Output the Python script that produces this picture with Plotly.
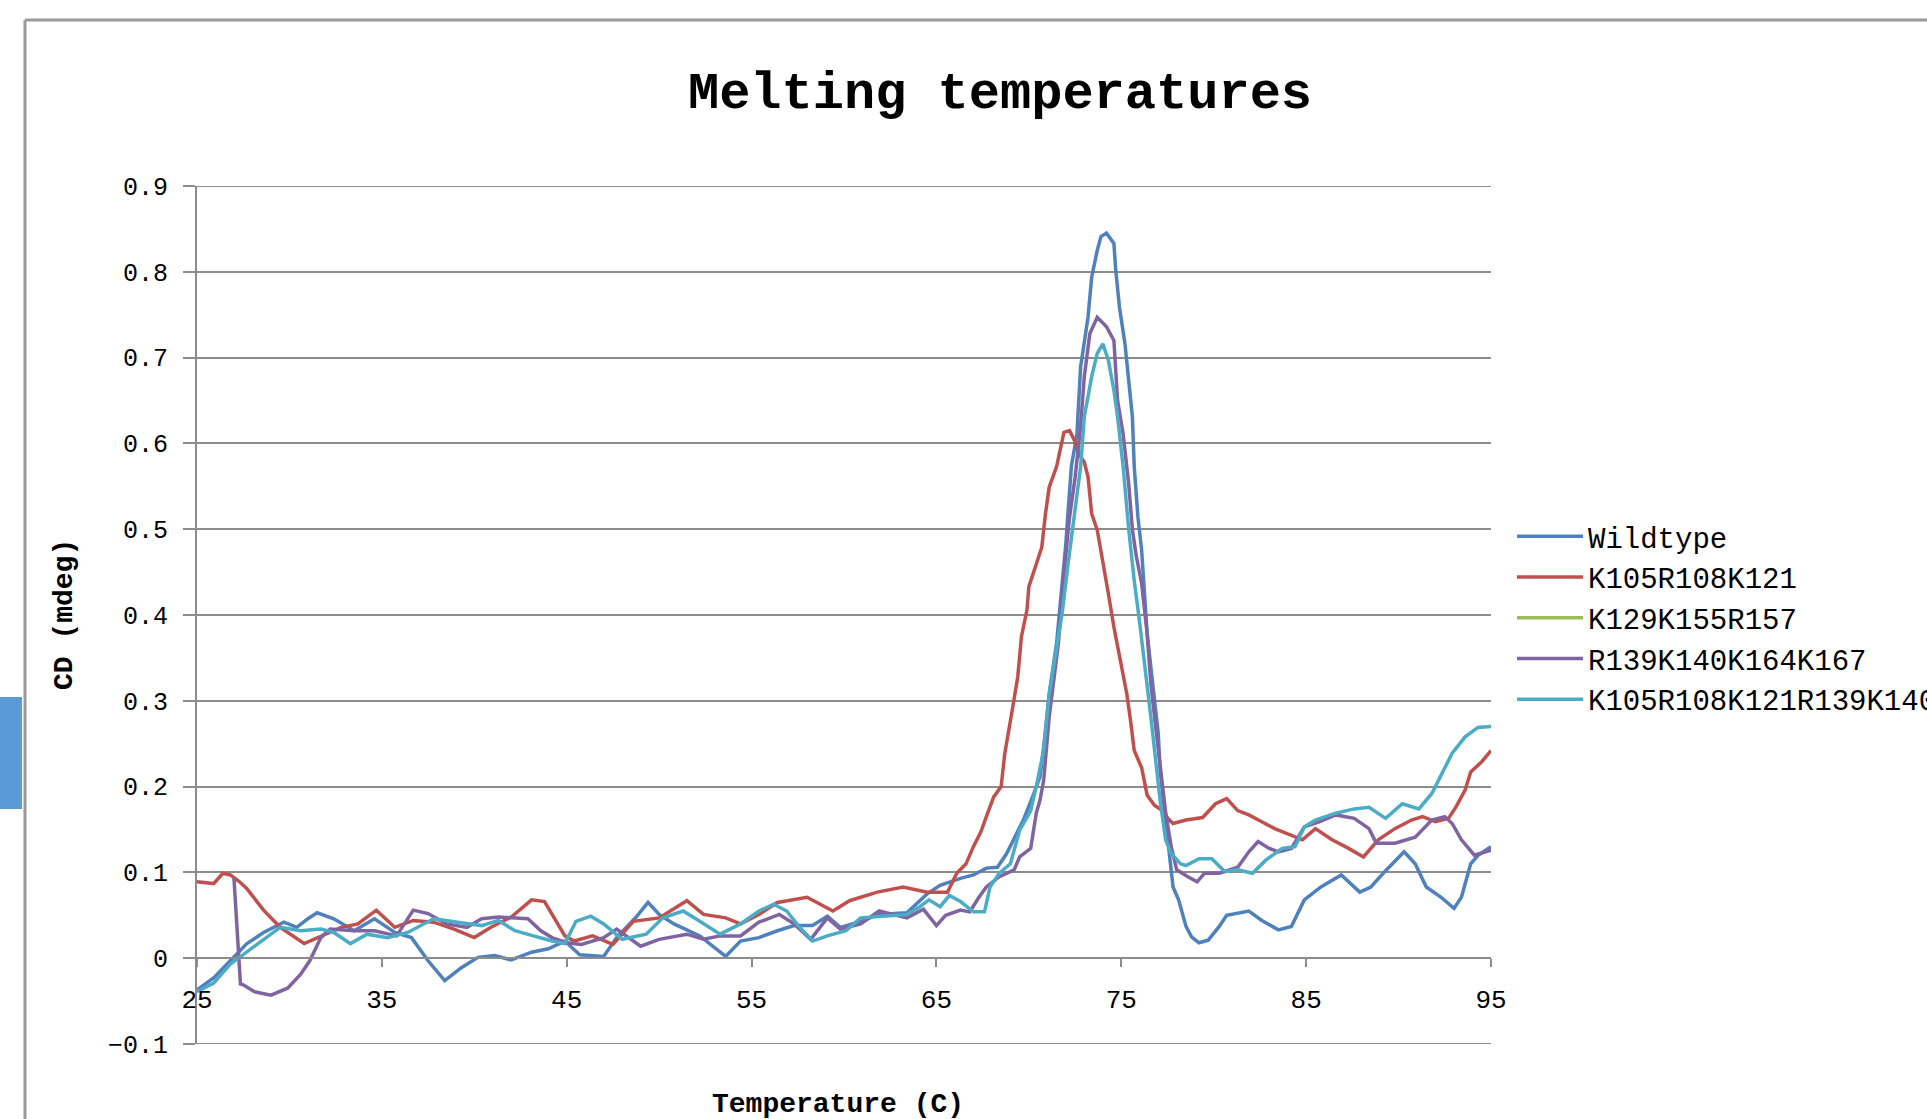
import plotly.graph_objects as go

# ---------------- data ----------------
series_names = ["Wildtype", "K105R108K121", "K129K155R157",
                "R139K140K164K167", "K105R108K121R139K140K164K167"]
series_colors = ["#4F81BD", "#C0504D", "#9BBB59", "#8064A2", "#4BACC6"]

wt_t = [25.0, 25.9, 26.8, 27.7, 28.6, 29.7, 30.4, 31.0, 31.5, 32.4, 33.5, 34.6, 35.7, 36.6,
        37.5, 38.4, 39.3, 40.2, 41.1, 42.0, 43.1, 44.0, 44.9, 45.7, 47.0, 47.7, 48.8, 49.4,
        50.0, 50.8, 52.2, 53.6, 54.4, 55.4, 56.4, 57.3, 58.3, 59.1, 59.8, 60.9, 61.9, 63.4,
        64.5, 65.2, 66.3, 67.0, 67.7, 68.3, 68.8, 69.3, 69.7, 70.2, 70.6, 70.8, 71.1, 71.5,
        71.8, 72.0, 72.1, 72.3, 72.6, 72.8, 73.2, 73.4, 73.7, 73.9, 74.2, 74.6, 74.7, 74.9,
        75.2, 75.4, 75.6, 75.7, 75.9, 76.1, 76.3, 76.4, 76.7, 77.0, 77.1, 77.3, 77.5, 77.8,
        78.1, 78.5, 78.8, 79.2, 79.7, 80.3, 80.7, 81.9, 82.6, 83.5, 84.2, 84.9, 85.8, 86.9,
        87.9, 88.5, 89.3, 90.3, 90.9, 91.5, 92.3, 93.0, 93.4, 93.9, 94.3, 95.0]
wt_cd = [-0.037, -0.023, -0.003, 0.017, 0.030, 0.042, 0.036, 0.046, 0.053, 0.046, 0.032, 0.046,
         0.030, 0.024, -0.003, -0.026, -0.011, 0.001, 0.003, -0.002, 0.007, 0.011, 0.020, 0.004,
         0.002, 0.024, 0.049, 0.065, 0.051, 0.040, 0.026, 0.002, 0.020, 0.024, 0.032, 0.038,
         0.038, 0.049, 0.036, 0.043, 0.051, 0.053, 0.075, 0.085, 0.093, 0.097, 0.105, 0.106,
         0.122, 0.143, 0.161, 0.188, 0.211, 0.246, 0.308, 0.367, 0.433, 0.483, 0.514, 0.573,
         0.611, 0.689, 0.747, 0.794, 0.825, 0.841, 0.845, 0.833, 0.802, 0.759, 0.716, 0.670,
         0.631, 0.573, 0.514, 0.476, 0.417, 0.378, 0.320, 0.262, 0.219, 0.184, 0.141, 0.083,
         0.068, 0.037, 0.025, 0.018, 0.021, 0.037, 0.050, 0.055, 0.044, 0.033, 0.037, 0.068,
         0.083, 0.097, 0.077, 0.083, 0.102, 0.124, 0.110, 0.083, 0.071, 0.058, 0.071, 0.110,
         0.120, 0.130]

r1_t = [25.0, 25.9, 26.4, 26.8, 27.3, 27.7, 28.6, 29.5, 30.8, 31.7, 32.8, 33.7, 34.7, 35.7,
        36.7, 37.8, 38.9, 40.0, 40.9, 42.0, 43.1, 43.8, 44.3, 44.9, 45.4, 46.4, 47.5, 48.6,
        50.0, 51.5, 52.4, 53.6, 54.4, 55.4, 56.4, 58.0, 59.4, 60.3, 61.8, 63.2, 64.5, 65.6,
        66.1, 66.6, 67.0, 67.4, 67.7, 68.1, 68.5, 68.7, 69.1, 69.4, 69.6, 69.9, 70.0, 70.3,
        70.7, 70.9, 71.1, 71.5, 71.8, 71.9, 72.2, 72.5, 72.7, 73.0, 73.2, 73.4, 73.7, 74.0,
        74.3, 74.6, 74.9, 75.3, 75.5, 75.7, 76.1, 76.4, 76.8, 77.1, 77.6, 77.8, 78.5, 79.4,
        80.1, 80.7, 81.3, 81.9, 82.6, 83.3, 84.0, 84.8, 85.5, 86.4, 87.3, 88.1, 88.9, 89.8,
        90.7, 91.3, 92.0, 92.7, 93.1, 93.6, 93.9, 94.5, 95.0]
r1_cd = [0.089, 0.087, 0.099, 0.097, 0.089, 0.081, 0.056, 0.036, 0.017, 0.026, 0.036, 0.040,
         0.056, 0.036, 0.044, 0.042, 0.034, 0.024, 0.036, 0.048, 0.068, 0.066, 0.048, 0.026,
         0.020, 0.026, 0.016, 0.043, 0.047, 0.067, 0.051, 0.047, 0.040, 0.051, 0.065, 0.071,
         0.055, 0.067, 0.077, 0.083, 0.077, 0.077, 0.099, 0.110, 0.130, 0.147, 0.165, 0.188,
         0.200, 0.239, 0.289, 0.328, 0.375, 0.406, 0.433, 0.452, 0.479, 0.518, 0.549, 0.573,
         0.600, 0.613, 0.615, 0.602, 0.588, 0.578, 0.561, 0.518, 0.499, 0.464, 0.425, 0.386,
         0.351, 0.308, 0.277, 0.242, 0.222, 0.190, 0.178, 0.174, 0.161, 0.157, 0.161, 0.164,
         0.180, 0.186, 0.172, 0.167, 0.159, 0.151, 0.145, 0.138, 0.151, 0.138, 0.128, 0.118,
         0.138, 0.151, 0.161, 0.165, 0.159, 0.163, 0.176, 0.196, 0.217, 0.229, 0.242]

# K129K155R157: no visible curve in the reference, legend entry only
r2_t = [None]
r2_cd = [None]

r3_t = [27.0, 27.35, 27.5, 28.1, 29.0, 29.9, 30.6, 31.1, 31.7, 32.2, 33.5, 34.6, 35.8, 36.7,
        37.5, 38.5, 39.6, 40.4, 41.3, 42.9, 43.6, 44.2, 45.0, 45.8, 47.0, 47.7, 49.0, 50.0,
        51.5, 52.4, 53.3, 54.4, 55.4, 56.5, 57.3, 58.2, 59.1, 59.8, 60.9, 61.9, 63.4, 64.3,
        65.0, 65.5, 66.3, 66.8, 67.3, 67.7, 68.4, 69.2, 69.5, 70.1, 70.4, 70.6, 70.8, 71.1,
        71.6, 71.9, 72.2, 72.5, 72.8, 73.0, 73.3, 73.7, 74.2, 74.6, 74.8, 75.1, 75.4, 75.6,
        75.8, 76.1, 76.4, 76.6, 76.9, 77.2, 77.4, 77.7, 78.0, 78.6, 79.1, 79.5, 80.3, 81.3,
        81.9, 82.4, 83.0, 83.5, 84.2, 84.9, 85.7, 86.6, 87.6, 88.4, 88.8, 89.8, 90.9, 91.8,
        92.5, 92.9, 93.4, 94.1, 95.0]
r3_cd = [0.093, -0.030, -0.031, -0.039, -0.043, -0.035, -0.019, -0.003, 0.024, 0.034, 0.032,
         0.032, 0.026, 0.056, 0.052, 0.040, 0.036, 0.046, 0.048, 0.046, 0.032, 0.024, 0.018,
         0.016, 0.024, 0.034, 0.014, 0.022, 0.028, 0.022, 0.026, 0.026, 0.042, 0.051, 0.040,
         0.022, 0.047, 0.034, 0.040, 0.055, 0.047, 0.057, 0.038, 0.050, 0.056, 0.054, 0.071,
         0.083, 0.095, 0.103, 0.118, 0.128, 0.169, 0.184, 0.207, 0.281, 0.367, 0.448, 0.514,
         0.560, 0.620, 0.678, 0.728, 0.747, 0.736, 0.720, 0.650, 0.611, 0.553, 0.500, 0.470,
         0.437, 0.378, 0.320, 0.262, 0.204, 0.170, 0.130, 0.103, 0.095, 0.089, 0.099, 0.099,
         0.106, 0.124, 0.136, 0.128, 0.124, 0.128, 0.153, 0.159, 0.167, 0.163, 0.151, 0.134,
         0.134, 0.141, 0.161, 0.165, 0.157, 0.138, 0.120, 0.126]

r4_t = [25.0, 25.9, 26.8, 27.7, 28.6, 29.5, 30.6, 31.7, 32.4, 33.3, 34.2, 35.3, 36.4, 37.8,
        39.1, 40.4, 41.3, 42.2, 43.2, 44.2, 44.9, 45.5, 46.3, 47.0, 48.0, 49.3, 50.2, 51.3,
        52.2, 53.3, 54.4, 55.4, 56.2, 56.9, 57.6, 58.3, 59.1, 60.1, 60.9, 61.9, 63.4, 64.1,
        64.6, 65.2, 65.7, 66.3, 67.0, 67.6, 67.9, 68.4, 69.0, 69.5, 70.1, 70.4, 70.8, 71.1,
        71.5, 71.8, 72.1, 72.3, 72.6, 72.8, 73.0, 73.4, 73.7, 74.0, 74.3, 74.6, 74.8, 75.1,
        75.4, 75.7, 76.0, 76.4, 76.6, 76.9, 77.1, 77.4, 77.7, 78.2, 78.5, 79.2, 79.9, 80.6,
        81.3, 82.1, 82.8, 83.7, 84.4, 84.9, 85.5, 86.6, 87.6, 88.4, 89.3, 90.2, 91.1, 91.8,
        92.3, 92.9, 93.6, 94.3, 95.0]
r4_cd = [-0.039, -0.029, -0.007, 0.007, 0.022, 0.036, 0.032, 0.034, 0.030, 0.017, 0.028,
         0.024, 0.030, 0.046, 0.042, 0.038, 0.044, 0.032, 0.026, 0.020, 0.017, 0.043, 0.049,
         0.040, 0.022, 0.028, 0.047, 0.055, 0.043, 0.028, 0.040, 0.055, 0.063, 0.055, 0.036,
         0.020, 0.026, 0.032, 0.047, 0.049, 0.051, 0.060, 0.068, 0.060, 0.073, 0.066, 0.054,
         0.054, 0.083, 0.099, 0.110, 0.149, 0.172, 0.200, 0.242, 0.308, 0.359, 0.402, 0.456,
         0.490, 0.540, 0.573, 0.631, 0.678, 0.705, 0.716, 0.697, 0.662, 0.631, 0.573, 0.500,
         0.440, 0.390, 0.320, 0.281, 0.223, 0.184, 0.138, 0.122, 0.110, 0.108, 0.116, 0.116,
         0.101, 0.103, 0.099, 0.114, 0.128, 0.130, 0.153, 0.161, 0.169, 0.174, 0.176, 0.163,
         0.180, 0.174, 0.192, 0.213, 0.239, 0.258, 0.269, 0.270]

x_ticks = [25, 35, 45, 55, 65, 75, 85, 95]
y_ticks = [-0.1, 0, 0.1, 0.2, 0.3, 0.4, 0.5, 0.6, 0.7, 0.8, 0.9]
y_tick_labels = ["\u22120.1", "0", "0.1", "0.2", "0.3", "0.4", "0.5", "0.6", "0.7", "0.8", "0.9"]

# ---------------- figure ----------------
W, H = 1927, 1119
L, R, T, B = 197, 1927 - 1491, 186, 1119 - 1044
PW, PH = W - L - R, H - T - B

def px_x(p):
    return (p - L) / PW

def px_y(p):
    return (H - B - p) / PH

MONO = "Liberation Mono"
GRID = "#8c8c8c"

xs = [wt_t, r1_t, r2_t, r3_t, r4_t]
ys = [wt_cd, r1_cd, r2_cd, r3_cd, r4_cd]

fig = go.Figure()
for name, col, xv, yv in zip(series_names, series_colors, xs, ys):
    fig.add_trace(go.Scatter(x=xv, y=yv, mode="lines", name=name, showlegend=True,
                             line=dict(color=col, width=3.5)))

fig.update_layout(
    width=W, height=H,
    margin=dict(l=L, r=R, t=T, b=B, autoexpand=False),
    paper_bgcolor="white", plot_bgcolor="white",
    title=dict(text="Melting temperatures", x=1000 / W, xref="container", xanchor="center",
               y=1 - 90 / H, yref="container", yanchor="middle",
               font=dict(family=MONO, size=52, color="black", weight="bold")),
    xaxis=dict(range=[25, 95], tickvals=x_ticks, ticktext=[str(v) for v in x_ticks],
               anchor="free", position=0.1, showgrid=False, zeroline=False,
               showline=True, linecolor=GRID, linewidth=2,
               ticks="outside", ticklen=8, tickwidth=2, tickcolor=GRID,
               ticklabelstandoff=10,
               tickfont=dict(family=MONO, size=26, color="black")),
    yaxis=dict(range=[-0.1, 0.9], tickvals=y_ticks, ticktext=y_tick_labels,
               showgrid=True, gridcolor=GRID, gridwidth=2, zeroline=False,
               showline=True, linecolor=GRID, linewidth=2,
               ticks="outside", ticklen=12, tickwidth=2, tickcolor=GRID,
               ticklabelstandoff=10,
               tickfont=dict(family=MONO, size=25, color="black")),
    legend=dict(x=px_x(1512), y=px_y(511), xanchor="left", yanchor="top",
                font=dict(family=MONO, size=29, color="black"),
                bgcolor="rgba(0,0,0,0)", itemwidth=66, tracegroupgap=0),
    showlegend=True,
)

# gridlines on the range boundaries (plotly skips them)
for yb in (y_ticks[0], y_ticks[-1]):
    fig.add_shape(type="line", xref="paper", yref="y", x0=0, x1=1, y0=yb, y1=yb,
                  line=dict(color=GRID, width=2), layer="below")

# axis titles
fig.add_annotation(text="<b>CD (mdeg)</b>", x=px_x(64), y=0.5, xref="paper", yref="paper",
                   textangle=-90, showarrow=False, xanchor="center", yanchor="middle",
                   font=dict(family=MONO, size=28, color="black"))
fig.add_annotation(text="<b>Temperature (C)</b>", x=px_x(838), y=px_y(1104), xref="paper",
                   yref="paper", showarrow=False, xanchor="center", yanchor="middle",
                   font=dict(family=MONO, size=28, color="black"))

# window frame decorations of the screenshot
fig.add_shape(type="line", xref="paper", yref="paper", x0=px_x(25), x1=px_x(W + 5),
              y0=px_y(20), y1=px_y(20), line=dict(color="#9a9a9a", width=3), layer="above")
fig.add_shape(type="line", xref="paper", yref="paper", x0=px_x(25), x1=px_x(25),
              y0=px_y(20), y1=px_y(H + 5), line=dict(color="#9a9a9a", width=3), layer="above")
fig.add_shape(type="rect", xref="paper", yref="paper", x0=px_x(-2), x1=px_x(22),
              y0=px_y(697), y1=px_y(809), line=dict(width=0), fillcolor="#5B9BD5")

fig.write_html("out.html")
